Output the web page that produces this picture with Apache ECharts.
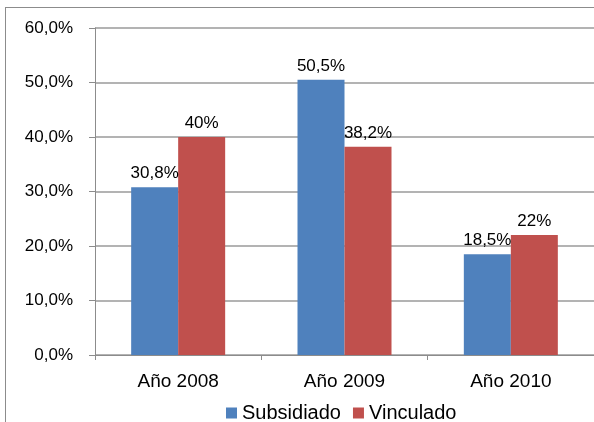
<!DOCTYPE html>
<html>
<head>
<meta charset="utf-8">
<script src="https://cdn.jsdelivr.net/npm/echarts@6/dist/echarts.min.js"></script>
<style>
  html, body { margin: 0; padding: 0; background: #fff; }
  #frame { position: absolute; left: 5px; top: 7px; width: 600px; height: 430px;
           border-left: 1px solid #8c8c8c; border-top: 1px solid #8c8c8c; }
  #chart { position: absolute; left: 0; top: 0; width: 594px; height: 422px; }
</style>
</head>
<body>
<div id="frame"></div>
<div id="chart"></div>
<script>
  // categories, series, labels
  const years = ['Año 2008', 'Año 2009', 'Año 2010'];
  const subsidiado = [30.8, 50.5, 18.5];
  const vinculado = [40, 38.2, 22];
  const subsidiadoLabels = ['30,8%', '50,5%', '18,5%'];
  const vinculadoLabels = ['40%', '38,2%', '22%'];

  const FONT = 'Liberation Sans, Arial, sans-serif';
  const fmtAxis = v => v.toFixed(1).replace('.', ',') + '%';

  const chart = echarts.init(document.getElementById('chart'), null, { renderer: 'canvas' });
  const lbl = arr => ({
    show: true, position: 'top', distance: 5,
    color: '#000', fontFamily: FONT, fontSize: 17,
    formatter: p => arr[p.dataIndex],
  });

  chart.setOption({
    animation: false,
    backgroundColor: 'transparent',
    grid: { left: 95, top: 28, width: 507, height: 327, containLabel: false },
    legend: {
      top: 398, left: 221, itemGap: 12,
      icon: 'rect', itemWidth: 11, itemHeight: 11,
      textStyle: { color: '#000', fontFamily: FONT, fontSize: 20 },
      data: ['Subsidiado', 'Vinculado'],
    },
    xAxis: {
      type: 'category', data: years,
      axisLine: { lineStyle: { color: '#8c8c8c', width: 1 } },
      axisTick: { show: true, alignWithLabel: false, length: 5, lineStyle: { color: '#8c8c8c' } },
      axisLabel: { color: '#000', fontFamily: FONT, fontSize: 19, margin: 17 },
    },
    yAxis: {
      type: 'value', min: 0, max: 60, interval: 10,
      axisLine: { show: true, lineStyle: { color: '#8c8c8c', width: 1 } },
      axisTick: { show: true, length: 6, lineStyle: { color: '#8c8c8c' } },
      splitLine: { lineStyle: { color: '#9a9a9a', width: 1.5 } },
      axisLabel: { color: '#000', fontFamily: FONT, fontSize: 17, margin: 22, formatter: fmtAxis },
    },
    series: [
      {
        name: 'Subsidiado', type: 'bar', data: subsidiado,
        barWidth: 47, barGap: '0%',
        itemStyle: { color: '#4f81bd' },
        label: lbl(subsidiadoLabels),
      },
      {
        name: 'Vinculado', type: 'bar', data: vinculado,
        barWidth: 47,
        itemStyle: { color: '#c0504d' },
        label: lbl(vinculadoLabels),
      },
    ],
  });
</script>
</body>
</html>
